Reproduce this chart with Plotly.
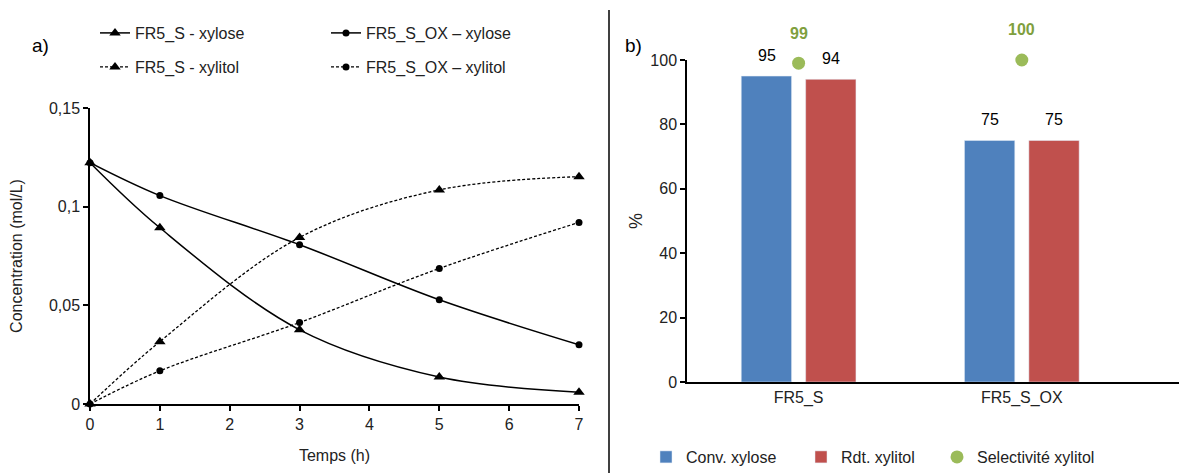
import plotly.graph_objects as go

# ---- data: panel a) ----
temps = [0, 1, 3, 5, 7]
fr5s_xylose = [0.1223, 0.0893, 0.0376, 0.0137, 0.0060]
fr5sox_xylose = [0.1223, 0.1056, 0.0807, 0.0528, 0.0300]
fr5s_xylitol = [0.0, 0.0316, 0.0844, 0.1085, 0.1152]
fr5sox_xylitol = [0.0, 0.0168, 0.0413, 0.0687, 0.0920]
y_ticks_a = [0, 0.05, 0.1, 0.15]
y_ticktext_a = ["0", "0,05", "0,1", "0,15"]
x_ticks_a = [0, 1, 2, 3, 4, 5, 6, 7]

# ---- data: panel b) ----
samples = ["FR5_S", "FR5_S_OX"]
conv_xylose = [95, 75]
rdt_xylitol = [94, 75]
select_xylitol = [99, 100]
y_ticks_b = [0, 20, 40, 60, 80, 100]

# page body has an 8px margin: size the figure to fill the rest of the window
PAGE_W, PAGE_H, OFF = 1187, 473, 8
W, H = PAGE_W - OFF, PAGE_H - OFF


def px(rx):
    return (rx - OFF) / W


def py(ry):
    return 1 - (ry - OFF) / H


FONT = "Liberation Sans, Arial, sans-serif"
FS = 16
BLUE, RED, GREEN, GREEN_TXT = "#4F81BD", "#C0504D", "#9BBB59", "#7F9F3E"

fig = go.Figure()


def line_trace(y, name, symbol, dash, legend, msize):
    return go.Scatter(
        x=temps, y=y, name=name, mode="lines+markers",
        line=dict(color="black", width=1.5 if dash == "solid" else 1.3,
                  dash=dash, shape="spline"),
        marker=dict(symbol=symbol, size=msize, color="black"),
        xaxis="x", yaxis="y", legend=legend, cliponaxis=False,
    )


fig.add_trace(line_trace(fr5s_xylose, "FR5_S - xylose", "triangle-up", "solid", "legend", 10))
fig.add_trace(line_trace(fr5sox_xylose, "FR5_S_OX – xylose", "circle", "solid", "legend", 7))
fig.add_trace(line_trace(fr5s_xylitol, "FR5_S - xylitol", "triangle-up", "3px,2px", "legend2", 10))
fig.add_trace(line_trace(fr5sox_xylitol, "FR5_S_OX – xylitol", "circle", "3px,2px", "legend2", 7))

fig.add_trace(go.Bar(x=samples, y=conv_xylose, name="Conv. xylose",
                     marker_color=BLUE, xaxis="x2", yaxis="y2",
                     legend="legend3", offsetgroup="a"))
fig.add_trace(go.Bar(x=samples, y=rdt_xylitol, name="Rdt. xylitol",
                     marker_color=RED, xaxis="x2", yaxis="y2",
                     legend="legend4", offsetgroup="b"))
fig.add_trace(go.Scatter(x=samples, y=select_xylitol, name="Selectivité xylitol",
                         mode="markers", marker=dict(size=13, color=GREEN),
                         xaxis="x2", yaxis="y2", legend="legend5",
                         cliponaxis=False))

annotations = []
for i, s in enumerate(samples):
    annotations.append(dict(x=s, y=conv_xylose[i], xref="x2", yref="y2",
                            text=str(conv_xylose[i]), showarrow=False,
                            xshift=-32, yshift=21,
                            font=dict(size=FS, color="black", family=FONT)))
    annotations.append(dict(x=s, y=rdt_xylitol[i], xref="x2", yref="y2",
                            text=str(rdt_xylitol[i]), showarrow=False,
                            xshift=32, yshift=21,
                            font=dict(size=FS, color="black", family=FONT)))
    annotations.append(dict(x=s, y=select_xylitol[i], xref="x2", yref="y2",
                            text="<b>%d</b>" % select_xylitol[i], showarrow=False,
                            yshift=30,
                            font=dict(size=FS, color=GREEN_TXT, family=FONT)))

annotations.append(dict(x=px(30), y=py(33), xref="paper", yref="paper",
                        text="a)", showarrow=False, xanchor="left",
                        font=dict(size=19, color="black", family=FONT)))
annotations.append(dict(x=px(623), y=py(33), xref="paper", yref="paper",
                        text="b)", showarrow=False, xanchor="left",
                        font=dict(size=19, color="black", family=FONT)))

axis_common = dict(showline=True, linecolor="black", linewidth=1.5,
                   showgrid=False, zeroline=False, ticks="outside",
                   ticklen=5, tickcolor="black", tickwidth=1.5,
                   tickfont=dict(size=FS, color="#222", family=FONT))

legend_font = dict(size=FS, family=FONT, color="#222")


def leg(rx, ry, **kw):
    return dict(orientation="h", x=px(rx), y=py(ry), yanchor="middle",
                xanchor="left", font=legend_font, bgcolor="rgba(0,0,0,0)",
                traceorder="normal", **kw)


fig.update_layout(
    width=W, height=H,
    margin=dict(l=0, r=0, t=0, b=0, autoexpand=False),
    paper_bgcolor="white", plot_bgcolor="white",
    font=dict(family=FONT, size=FS, color="#222"),
    showlegend=True,
    barmode="group", bargap=0.423, bargroupgap=0.219,
    xaxis=dict(domain=[px(90), px(579)], range=[0, 7], tickvals=x_ticks_a,
               title=dict(text="Temps (h)", standoff=18,
                          font=dict(size=FS, family=FONT)),
               anchor="y", **axis_common),
    yaxis=dict(domain=[py(404), py(108)], range=[0, 0.15],
               tickvals=y_ticks_a, ticktext=y_ticktext_a,
               title=dict(text="Concentration (mol/L)", standoff=22,
                          font=dict(size=FS, family=FONT)),
               anchor="x", **axis_common),
    xaxis2=dict(domain=[px(687), 1.0], range=[-0.5, 1.74], ticks="",
                showline=True, linecolor="black", linewidth=1.5,
                showgrid=False, zeroline=False,
                tickfont=dict(size=FS, color="#222", family=FONT),
                anchor="y2"),
    yaxis2=dict(domain=[py(382), py(60)], range=[0, 100],
                tickvals=y_ticks_b,
                title=dict(text="%", standoff=3, font=dict(size=18, family=FONT)),
                anchor="x2", **axis_common),
    legend=leg(95, 33, entrywidth=186, entrywidthmode="pixels"),
    legend2=leg(95, 67, entrywidth=186, entrywidthmode="pixels"),
    legend3=leg(646, 457),
    legend4=leg(801, 457),
    legend5=leg(937, 457),
    annotations=annotations,
    shapes=[dict(type="line", xref="paper", yref="paper",
                 x0=px(609), x1=px(609), y0=0, y1=py(10),
                 line=dict(color="black", width=1.5))],
)

fig.write_html("out.html")
